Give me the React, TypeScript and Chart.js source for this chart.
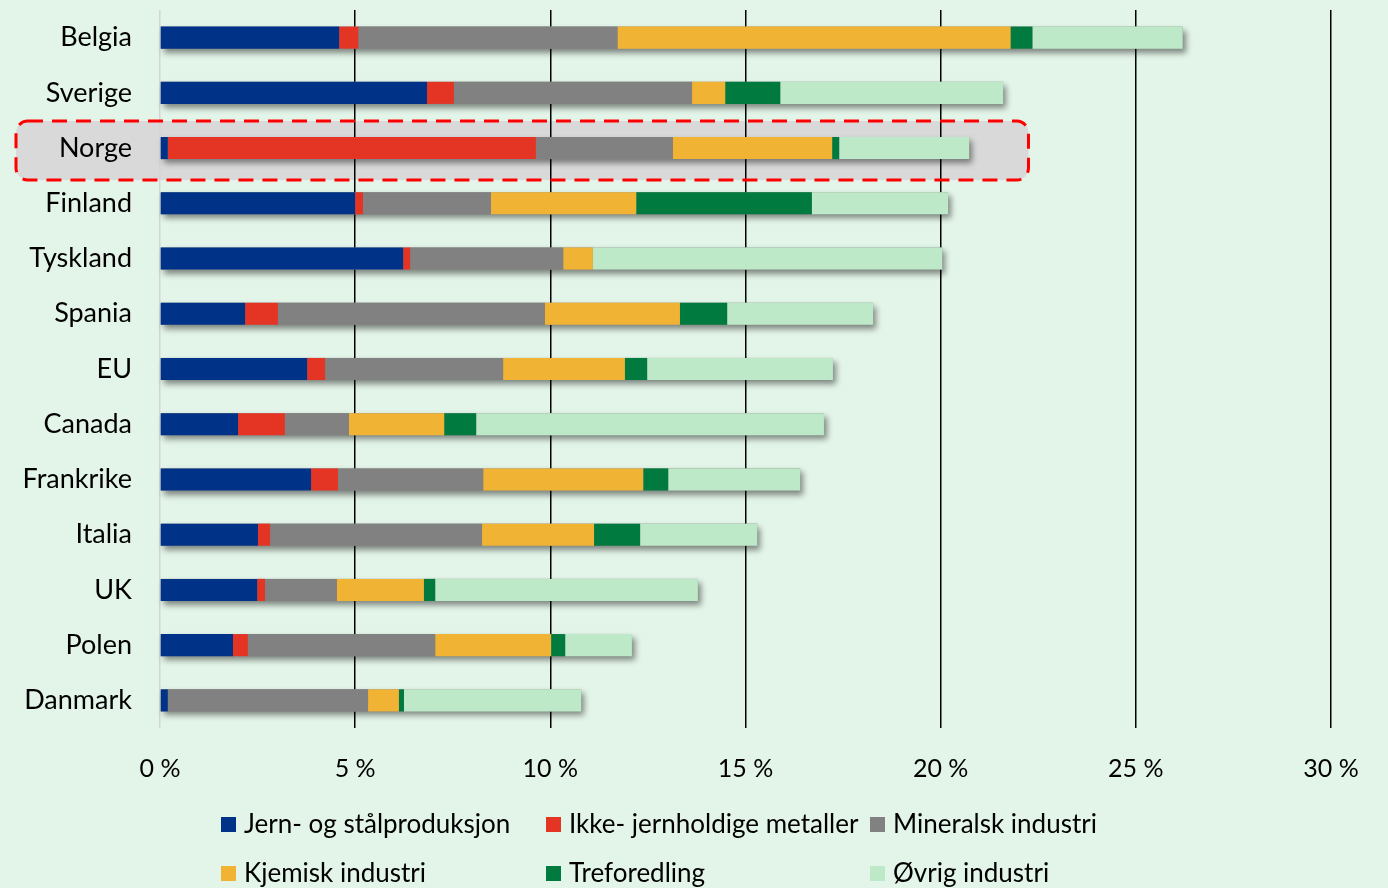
import React, { useEffect, useRef } from "react";
import { Chart, registerables } from "chart.js";

Chart.register(...registerables);

const categories = ["Belgia", "Sverige", "Norge", "Finland", "Tyskland", "Spania", "EU", "Canada", "Frankrike", "Italia", "UK", "Polen", "Danmark"];
const seriesNames = ["Jern- og stålproduksjon", "Ikke- jernholdige metaller", "Mineralsk industri", "Kjemisk industri", "Treforedling", "Øvrig industri"];
const jern = [4.59, 6.84, 0.2, 5.0, 6.23, 2.18, 3.77, 2.0, 3.87, 2.51, 2.49, 1.87, 0.2];
const ikke = [0.49, 0.69, 9.43, 0.2, 0.18, 0.84, 0.46, 1.2, 0.69, 0.31, 0.2, 0.38, 0];
const mineral = [6.64, 6.1, 3.51, 3.28, 3.92, 6.84, 4.56, 1.64, 3.72, 5.43, 1.84, 4.8, 5.13];
const kjemisk = [10.07, 0.85, 4.08, 3.72, 0.76, 3.46, 3.12, 2.44, 4.1, 2.87, 2.23, 2.97, 0.79];
const tre = [0.56, 1.41, 0.18, 4.5, 0, 1.21, 0.57, 0.82, 0.64, 1.18, 0.29, 0.36, 0.13];
const ovrig = [3.85, 5.71, 3.33, 3.49, 8.95, 3.74, 4.76, 8.91, 3.38, 3.0, 6.73, 1.71, 4.54];
const colors = ["#003287", "#e43424", "#818181", "#f0b334", "#007a3f", "#bee9c9"];
const xTicks = [0, 5, 10, 15, 20, 25, 30];

const highlightIndex = 2;
const highlightRightValue = 22.25;

const FONT = "Lato, 'Open Sans', sans-serif";
const BG = "#e3f4e8";

function highlightPath(chart: any) {
  const { ctx } = chart;
  const y = chart.scales.y.getPixelForValue(highlightIndex);
  const x0 = 16;
  const x1 = chart.scales.x.getPixelForValue(highlightRightValue);
  ctx.beginPath();
  ctx.roundRect(x0, y - 27, x1 - x0, 59, 12);
}

const bgPlugin = {
  id: "bgAndHighlight",
  beforeDraw(chart: any) {
    const { ctx, width, height } = chart;
    ctx.save();
    ctx.fillStyle = BG;
    ctx.fillRect(0, 0, width, height);
    highlightPath(chart);
    ctx.fillStyle = "#d9d9d9";
    ctx.fill();
    ctx.restore();
  },
  beforeDatasetsDraw(chart: any) {
    const { ctx } = chart;
    ctx.save();
    ctx.shadowColor = "rgba(0,0,0,0.45)";
    ctx.shadowBlur = 6;
    ctx.shadowOffsetX = 3;
    ctx.shadowOffsetY = 4;
    ctx.fillStyle = "#888";
    categories.forEach((_, j) => {
      let minX = Infinity, maxX = -Infinity, yc = 0, h = 0;
      chart.data.datasets.forEach((_d: any, i: number) => {
        const el = chart.getDatasetMeta(i).data[j] as any;
        if (!el) return;
        minX = Math.min(minX, el.base, el.x);
        maxX = Math.max(maxX, el.base, el.x);
        yc = el.y;
        h = el.height;
      });
      ctx.fillRect(minX, yc - h / 2, maxX - minX, h);
    });
    ctx.restore();
  },
  afterDraw(chart: any) {
    const { ctx } = chart;
    ctx.save();
    highlightPath(chart);
    ctx.strokeStyle = "#ff0000";
    ctx.lineWidth = 3;
    ctx.setLineDash([15, 9]);
    ctx.stroke();
    ctx.restore();

    // legend
    ctx.save();
    ctx.font = `26px ${FONT}`;
    ctx.textBaseline = "middle";
    ctx.textAlign = "left";
    const colX = [221, 546, 870];
    const rowY = [825, 874];
    chart.data.datasets.forEach((d: any, i: number) => {
      const cx = colX[i % 3];
      const cy = rowY[Math.floor(i / 3)];
      ctx.fillStyle = d.backgroundColor;
      ctx.fillRect(cx, cy - 8, 15, 15);
      ctx.fillStyle = "#000";
      ctx.fillText(d.label, cx + 23, cy);
    });
    ctx.restore();
  },
};

export default function App() {
  const ref = useRef<HTMLCanvasElement | null>(null);
  useEffect(() => {
    if (!ref.current) return;
    const values = [jern, ikke, mineral, kjemisk, tre, ovrig];
    const chart = new Chart(ref.current, {
      type: "bar",
      data: {
        labels: categories,
        datasets: values.map((v, i) => ({
          label: seriesNames[i],
          data: v,
          backgroundColor: colors[i],
          borderWidth: 0,
          barPercentage: 0.8,
          categoryPercentage: 0.5,
        })),
      },
      options: {
        indexAxis: "y",
        responsive: false,
        animation: false,
        devicePixelRatio: 1,
        layout: { padding: { top: 10, right: 57, left: 0, bottom: 0 } },
        plugins: { legend: { display: false }, tooltip: { enabled: false } },
        scales: {
          x: {
            stacked: true,
            min: 0,
            max: 30,
            afterBuildTicks: (s: any) => { s.ticks = xTicks.map((v) => ({ value: v })); },
            afterFit: (s: any) => { s.height = 160; s.paddingLeft = 0; s.paddingRight = 0; },
            border: { display: false },
            grid: {
              drawTicks: false,
              color: (c: any) => (c.tick && c.tick.value === 0 ? "#d4d4d4" : "#000000"),
              lineWidth: 1.5,
            },
            ticks: {
              padding: 26,
              color: "#000",
              font: { family: FONT, size: 25 },
              callback: (v: any) => `${v} %`,
            },
          },
          y: {
            stacked: true,
            afterFit: (s: any) => { s.width = 160; s.paddingTop = 0; s.paddingBottom = 0; },
            border: { display: false },
            grid: { display: false, drawTicks: false },
            ticks: { padding: 28, color: "#000", font: { family: FONT, size: 27 } },
          },
        },
      },
      plugins: [bgPlugin],
    });
    return () => chart.destroy();
  }, []);
  return (
    <div style={{ position: "fixed", left: 0, top: 0, width: 1388, height: 888, background: BG }}>
      <canvas ref={ref} width={1388} height={888} style={{ display: "block" }} />
    </div>
  );
}
